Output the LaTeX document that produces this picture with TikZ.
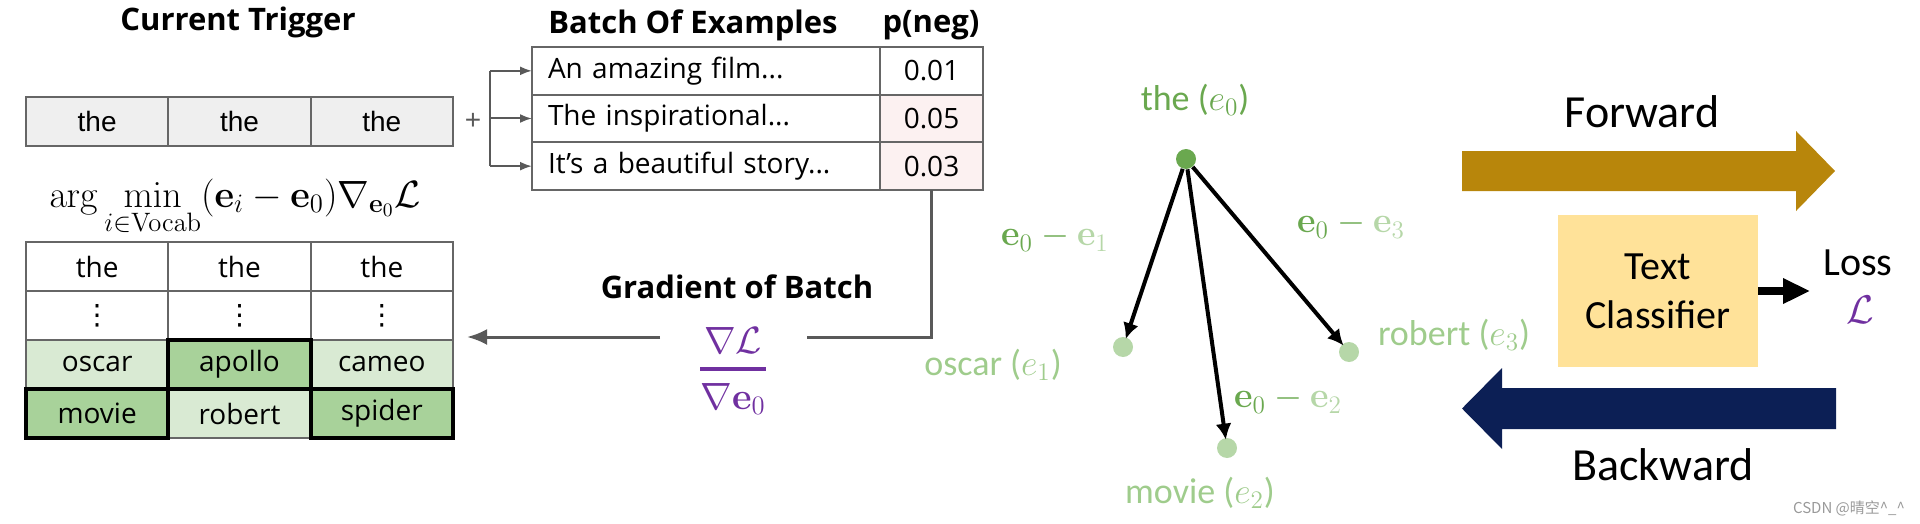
\RequirePackage{fix-cm}
\documentclass[tikz,border=0pt]{standalone}
\usepackage{amsmath}
\usepackage[no-math]{fontspec}
\setmainfont{Open Sans}[BoldFont={Open Sans Bold}]
\newfontfamily\carlito{Carlito}
\newfontfamily\arialf{Liberation Sans}
\newfontfamily\dejavu{DejaVu Sans}
\newfontfamily\cjkf{Noto Sans CJK SC}
\usetikzlibrary{arrows.meta,calc}
\newcommand\myfs[1]{\fontsize{#1}{1.2\dimexpr #1\relax}\selectfont}
\newcommand\vdts{{\dejavu ⋮}}
\definecolor{gridgray}{HTML}{666666}
\definecolor{linegray}{HTML}{595959}
\definecolor{topfill}{HTML}{EFEFEF}
\definecolor{pinkfill}{HTML}{FCF1F1}
\definecolor{lgreen}{HTML}{D9EAD3}
\definecolor{mgreen}{HTML}{A8D29A}
\definecolor{dgreen}{HTML}{6AA84F}
\definecolor{dotlight}{HTML}{B6D7A8}
\definecolor{lbllight}{HTML}{9FCC8C}
\definecolor{purp}{HTML}{7030A0}
\definecolor{fwdcol}{HTML}{B8860B}
\definecolor{bwdcol}{HTML}{0C1F55}
\definecolor{tcfill}{HTML}{FFE299}
\begin{document}
\begin{tikzpicture}[x=0.5pt,y=-0.5pt,
  title/.style={font=\myfs{15.5pt}\bfseries, inner sep=0},
  cell/.style={draw=gridgray, line width=1pt, inner sep=0, outer sep=0, minimum width=71.17pt, minimum height=24.5pt, font=\myfs{14pt}},
  tcell/.style={cell, fill=topfill, font=\arialf\myfs{14pt}},
  bcellL/.style={cell, minimum width=174pt, minimum height=23.83pt, text width=158pt, align=left, inner xsep=8pt},
  bcellR/.style={cell, minimum width=51.5pt, minimum height=23.83pt},
  thickbox/.style={draw=black, line width=2pt},
  bline/.style={draw=linegray, line width=1pt},
  gline/.style={draw=linegray, line width=1.5pt},
  dot/.style={circle, inner sep=0, minimum size=10pt},
  garrow/.style={draw=black, line width=2pt, -{Latex[length=8pt,width=8pt]}, shorten >=-1pt},
  glabel/.style={font=\carlito\myfs{18pt}, inner sep=0},
  elabel/.style={font=\myfs{18pt}, inner sep=0, text=dgreen},
  bigtext/.style={font=\carlito\myfs{23pt}, inner sep=0}
]
\useasboundingbox (0,0) rectangle (1920,524);

% titles
\node[title] (ct) at (238,22) {Current Trigger};
\node[title] (boe) at (693,25) {Batch Of Examples};
\node[title] (pneg) at (931,25) {p(neg)};

% current trigger table
\node[tcell] (t1) at (97.17,121.5) {the};
\node[tcell] (t2) at (239.5,121.5) {the};
\node[tcell] (t3) at (381.83,121.5) {the};
\node[font=\arialf\myfs{14pt}, text=linegray, inner sep=0] (plus) at (473,121) {+};

% batch table
\node[bcellL] (b11) at (706,70.83) {An amazing film...};
\node[bcellR] (b12) at (931.5,70.83) {0.01};
\node[bcellL] (b21) at (706,118.5) {The inspirational...};
\node[bcellR, fill=pinkfill] (b22) at (931.5,118.5) {0.05};
\node[bcellL] (b31) at (706,166.17) {It’s a beautiful story...};
\node[bcellR, fill=pinkfill] (b32) at (931.5,166.17) {0.03};

% bracket
\coordinate (br) at (490,118.5);
\draw[bline] (b11.west -| br) -- (b31.west -| br);
\foreach \r in {1,2,3}
  \draw[bline, -{Latex[length=6pt,width=4.5pt]}] (b\r1.west -| br) -- (b\r1.west);

% formula
\node[anchor=base, font=\myfs{19pt}, inner sep=0] (argmin) at (235,207)
  {$\displaystyle \arg\min_{i\in\mathrm{Vocab}}(\mathbf{e}_i-\mathbf{e}_0)\nabla_{\mathbf{e}_0}\mathcal{L}$};

% candidate table
\node[cell] (l11) at (97.17,266.5) {the};
\node[cell] (l12) at (239.5,266.5) {the};
\node[cell] (l13) at (381.83,266.5) {the};
\node[cell] (l21) at (97.17,315.5) {\vdts};
\node[cell] (l22) at (239.5,315.5) {\vdts};
\node[cell] (l23) at (381.83,315.5) {\vdts};
\node[cell, fill=lgreen] (l31) at (97.17,364.5) {oscar};
\node[cell, fill=mgreen] (l32) at (239.5,364.5) {apollo};
\node[cell, fill=lgreen] (l33) at (381.83,364.5) {cameo};
\node[cell, fill=mgreen] (l41) at (97.17,413.5) {movie};
\node[cell, fill=lgreen] (l42) at (239.5,413.5) {robert};
\node[cell, fill=mgreen] (l43) at (381.83,413.5) {spider};
\draw[thickbox] (l32.north west) rectangle (l32.south east);
\draw[thickbox] (l41.north west) rectangle (l41.south east);
\draw[thickbox] (l43.north west) rectangle (l43.south east);

% gradient
\node[title] (gob) at (737,287) {Gradient of Batch};
\node[text=purp, font=\myfs{19pt}, inner sep=0] (grad) at (733,371)
  {$\genfrac{}{}{2pt}{0}{\nabla\mathcal{L}}{\nabla\mathbf{e}_0}$};
\coordinate (gR) at (807,337);
\coordinate (gL) at (660,337);
\coordinate (gtip) at (467,337);
\draw[gline] (b32.south) |- (gR);
\draw[gline, -{Latex[length=10pt,width=8pt]}] (gL) -- (gtip);

% embedding graph
\node[dot, fill=dgreen] (e0) at (1186,159) {};
\node[dot, fill=dotlight] (e1) at (1123,347) {};
\node[dot, fill=dotlight] (e2) at (1227,448) {};
\node[dot, fill=dotlight] (e3) at (1349,352) {};
\draw[garrow] (e0) -- (e1);
\draw[garrow] (e0) -- (e2);
\draw[garrow] (e0) -- (e3);
\node[glabel, text=dgreen] (le0) at (1195,100) {the ($e_0$)};
\node[glabel, text=lbllight] (le1) at (993,365) {oscar ($e_1$)};
\node[glabel, text=lbllight] (le2) at (1200,493) {movie ($e_2$)};
\node[glabel, text=lbllight] (le3) at (1454,335) {robert ($e_3$)};
\node[elabel] (d1) at (1055,238) {$\mathbf{e}_0-\textcolor{dotlight}{\mathbf{e}_1}$};
\node[elabel] (d3) at (1351,225) {$\mathbf{e}_0-\textcolor{dotlight}{\mathbf{e}_3}$};
\node[elabel] (d2) at (1288,400) {$\mathbf{e}_0-\textcolor{dotlight}{\mathbf{e}_2}$};

% forward / backward
\node[bigtext] (fwdt) at (1642,112) {Forward};
\fill[fwdcol] (1462,151) -- (1796,151) -- (1796,131) -- (1835,171) -- (1796,211) -- (1796,191) -- (1462,191) -- cycle;
\node[fill=tcfill, inner sep=0, minimum width=100pt, minimum height=76pt, font=\carlito\fontsize{20pt}{24.5pt}\selectfont, align=center] (tc) at (1658,291) {Text\\Classifier};
\node[font=\carlito\myfs{20pt}, inner sep=0] (loss) at (1858,263) {Loss};
\node[text=purp, font=\myfs{20pt}, inner sep=0] (lossL) at (1860,310) {$\mathcal{L}$};
\coordinate (ltip) at (1810,291);
\draw[line width=4pt, -{Triangle[length=13.5pt,width=12pt]}] (tc.east) -- (ltip);
\fill[bwdcol] (1836,388) -- (1502,388) -- (1502,368) -- (1462,408.5) -- (1502,449) -- (1502,429) -- (1836,429) -- cycle;
\node[bigtext] (bwdt) at (1663,465) {Backward};

% watermark
\node[font=\cjkf\myfs{7.5pt}, text=black!40, inner sep=0] (wm) at (1849,508) {CSDN @晴空\textasciicircum\_\textasciicircum};
\end{tikzpicture}
\end{document}
